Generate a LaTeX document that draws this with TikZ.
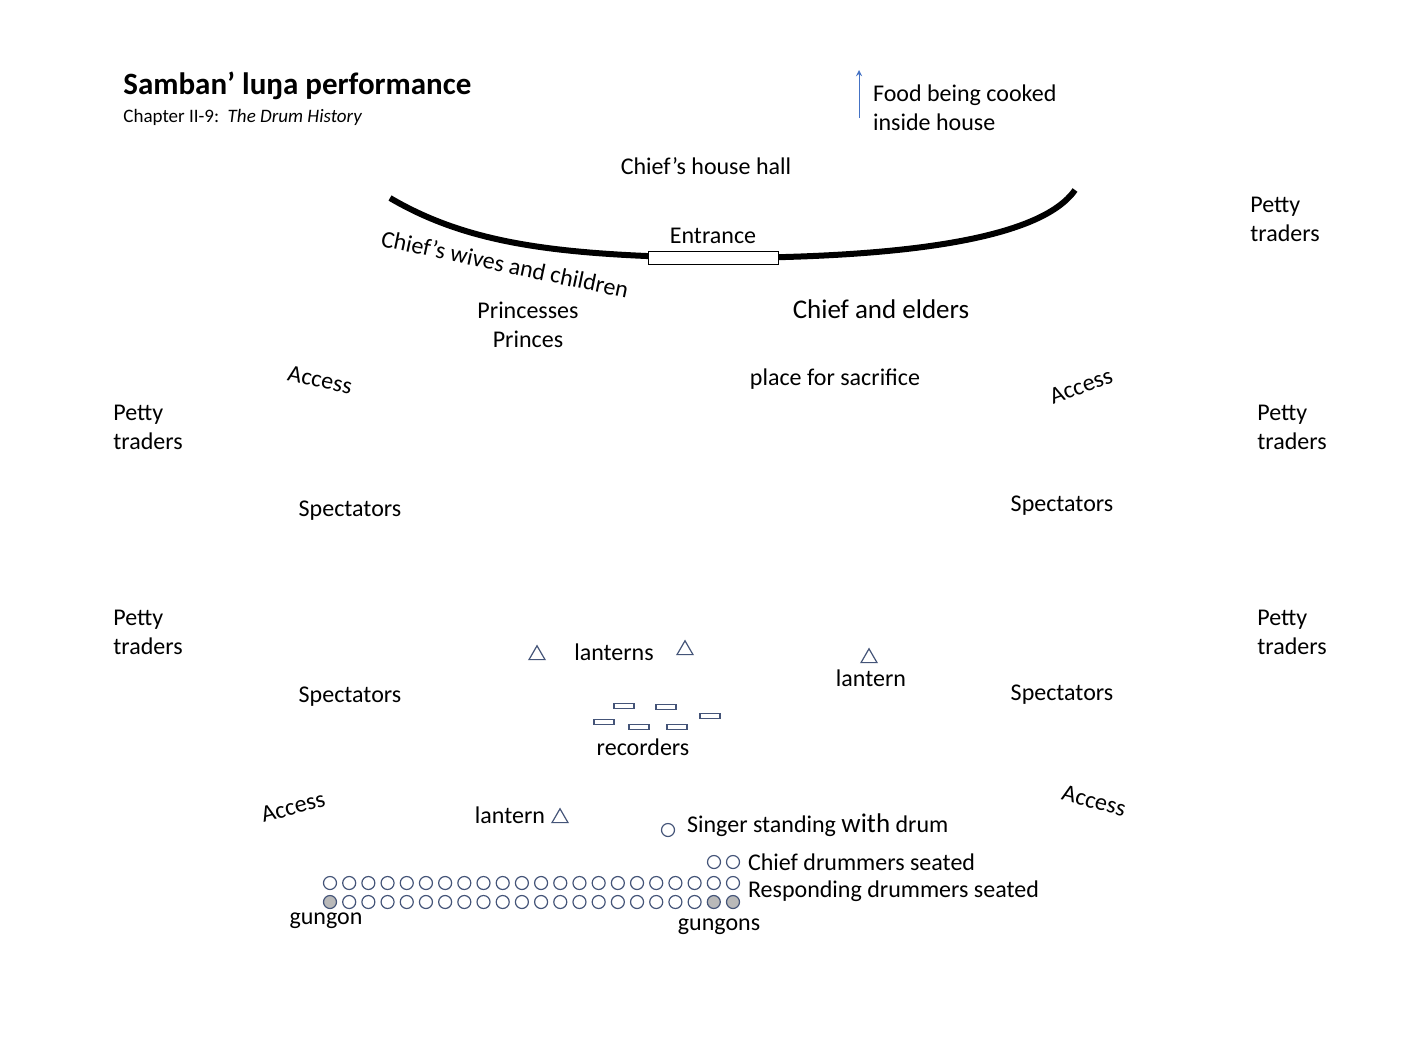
\documentclass[tikz,border=0pt]{standalone}
\usepackage{fontspec}
\setmainfont{Carlito}
\usetikzlibrary{arrows,shapes,positioning}
\definecolor{slate}{RGB}{68,84,120}
\definecolor{arrblue}{RGB}{68,114,196}

\tikzset{
  lbl/.style={font=\fontsize{12}{14.5}\selectfont, align=left},
  drum/.style={circle, draw=slate, semithick, minimum size=6.5pt, inner sep=0pt},
  gun/.style={drum, fill=gray!55},
  rec/.style={rectangle, draw=slate, semithick, minimum width=10pt, minimum height=2.5pt, inner sep=0pt},
  lamp/.style={isosceles triangle, shape border rotate=90, isosceles triangle apex angle=60, draw=slate, semithick, minimum width=8pt, minimum height=6pt, inner sep=0pt}
}

\begin{document}
\begin{tikzpicture}[x=0.5pt,y=-0.5pt]
\useasboundingbox (0,0) rectangle (1408,1056);
% title
\node [anchor=west, inner sep=0pt, font=\fontsize{15.5}{18}\selectfont\bfseries] (title) at (123,86) {Samban’ luŋa performance};
\node [anchor=west, inner sep=0pt, font=\fontsize{9.5}{11}\selectfont] (chap) at (123,117) {Chapter II-9:\ \ \textit{The Drum History}};
% house
\node [lbl] (hall) at (706,166) {Chief’s house hall};
\draw [line width=3pt] (390,198) .. controls (470,245) and (560,255) .. (713,258)
      .. controls (900,258) and (1040,240) .. (1075,190);
\node [rectangle, draw, fill=white, minimum width=65pt, minimum height=6.5pt, inner sep=0pt] (door) at (713,258) {};
\node [lbl, above=0pt of door] (entr) {Entrance};
\coordinate (food0) at (859,118);
\coordinate (food1) at (859,70);
\draw [->, >=stealth, arrblue] (food0) -- (food1);
\node [lbl, anchor=west] (food) at (866,108) {Food being cooked\\inside house};
% people
\node [lbl, rotate=-12] (wives) at (505,264) {Chief’s wives and children};
\node [lbl, align=center] (royals) at (528,325) {Princesses\\Princes};
\node [lbl, font=\fontsize{13.5}{16}\selectfont] (elders) at (881,309) {Chief and elders};
\node [lbl] (sacr) at (835,379) {place for sacrifice};
% access
\node [lbl, rotate=-12] (acc1) at (320,380) {Access};
\node [lbl, rotate=20] (acc2) at (1081,386) {Access};
\node [lbl, rotate=15] (acc3) at (293,807) {Access};
\node [lbl, rotate=-15] (acc4) at (1094,801) {Access};
% traders
\node [lbl, anchor=west, inner sep=0pt] (pt1) at (1250,219) {Petty\\traders};
\node [lbl, anchor=west, inner sep=0pt] (pt2) at (113,427) {Petty\\traders};
\node [lbl, anchor=west, inner sep=0pt] (pt3) at (1257,427) {Petty\\traders};
\node [lbl, anchor=west, inner sep=0pt] (pt4) at (113,632) {Petty\\traders};
\node [lbl, anchor=west, inner sep=0pt] (pt5) at (1257,632) {Petty\\traders};
% spectators
\node [lbl] (sp1) at (350,511) {Spectators};
\node [lbl] (sp2) at (1062,506) {Spectators};
\node [lbl] (sp3) at (350,697) {Spectators};
\node [lbl] (sp4) at (1062,695) {Spectators};
% lanterns
\node [lamp] (l1) at (537,655) {};
\node [lamp] (l2) at (685,650) {};
\node [lamp] (l3) at (869,658) {};
\node [lamp] (l4) at (560,818) {};
\node [lbl] (lt1) at (614,652) {lanterns};
\node [lbl] (lt2) at (871,678) {lantern};
\node [lbl] (lt3) at (510,815) {lantern};
% recorders
\foreach \x/\y [count=\i] in {624/706,666/707,710/716,604/722,639/727,677/727}
  \node [rec] (r\i) at (\x,\y) {};
\node [lbl] (recs) at (643,747) {recorders};
% drummers
\node [drum] (singer) at (668,830) {};
\node [lbl, anchor=west] (sing) at (680,825) {Singer standing {\fontsize{13.5}{15}\selectfont with} drum};
\node [drum] (cd1) at (714,862) {};
\node [drum] (cd2) at (733,862) {};
\node [lbl, anchor=west] (chd) at (741,862) {Chief drummers seated};
\foreach \i in {0,...,21} {
  \node [drum] (a\i) at (330+19.19*\i,883) {};
  \ifnum\i=0 \node [gun] (b\i) at (330+19.19*\i,902) {};
  \else\ifnum\i>19 \node [gun] (b\i) at (330+19.19*\i,902) {};
  \else \node [drum] (b\i) at (330+19.19*\i,902) {};
  \fi\fi
}
\node [lbl, anchor=west] (resp) at (741,891) {Responding drummers seated};
\node [lbl] (gg1) at (326,921) {gungon};
\node [lbl] (gg2) at (719,927) {gungons};
\end{tikzpicture}
\end{document}
